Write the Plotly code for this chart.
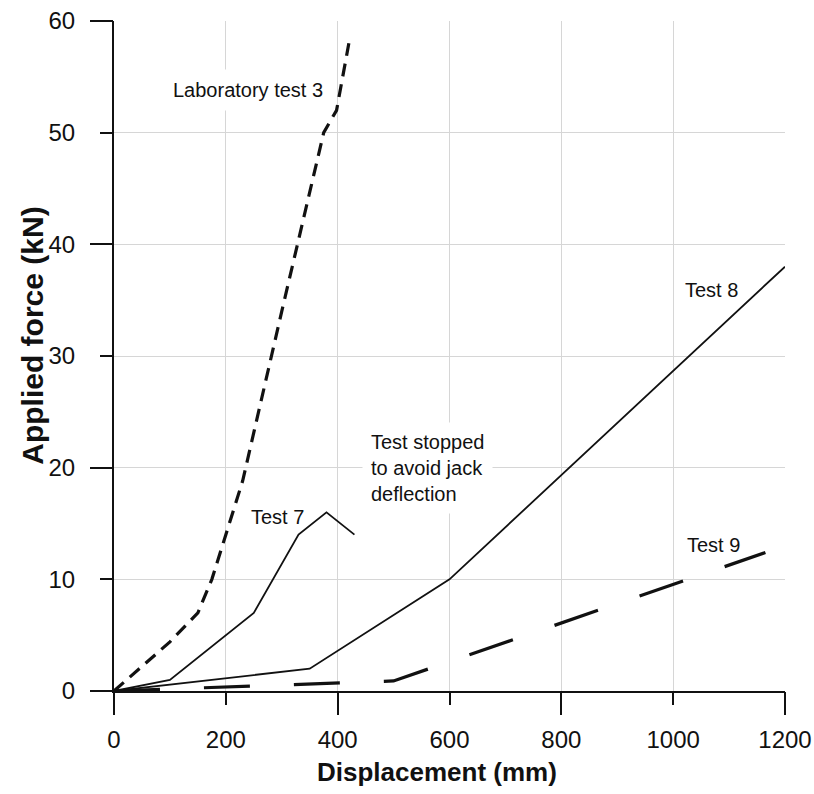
import plotly.graph_objects as go

# ---- data ----
lab3_x = [0, 100, 150, 175, 200, 230, 300, 375, 398, 420]
lab3_y = [0, 4.4, 7, 10, 14, 18.8, 34, 50, 52, 58]

test7_x = [0, 100, 250, 330, 380, 430]
test7_y = [0, 1, 7, 14, 16, 14]

test8_x = [0, 350, 600, 1200]
test8_y = [0, 2, 10, 38]

test9_x = [0, 500, 1165]
test9_y = [0, 0.9, 12.4]

x_ticks = [0, 200, 400, 600, 800, 1000, 1200]
x_major = [0, 400, 800, 1200]
y_ticks = [0, 10, 20, 30, 40, 50, 60]
y_major = [0, 20, 40, 60]

FONT = "Liberation Sans, Arial, Helvetica, sans-serif"
INK = "#111111"
GRID = "#d6d6d6"

fig = go.Figure()
fig.add_trace(go.Scatter(x=lab3_x, y=lab3_y, mode="lines",
                         line=dict(color=INK, width=3.2, dash="13px,8px"),
                         name="Laboratory test 3", showlegend=False))
fig.add_trace(go.Scatter(x=test7_x, y=test7_y, mode="lines",
                         line=dict(color=INK, width=1.8), name="Test 7", showlegend=False))
fig.add_trace(go.Scatter(x=test8_x, y=test8_y, mode="lines",
                         line=dict(color=INK, width=1.8), name="Test 8", showlegend=False))
fig.add_trace(go.Scatter(x=test9_x, y=test9_y, mode="lines",
                         line=dict(color=INK, width=3.2, dash="46px,44px"),
                         name="Test 9", showlegend=False))
# invisible trace to hold the overlay axes (long major ticks)
fig.add_trace(go.Scatter(x=[None], y=[None], xaxis="x2", yaxis="y2",
                         showlegend=False, hoverinfo="skip"))

ann_font = dict(family=FONT, size=20, color=INK)
title_font_x = dict(family=FONT, size=26, color=INK, weight="bold")
title_font_y = dict(family=FONT, size=30, color=INK, weight="bold")
annotations = [
    dict(x=240, y=53.8, text="Laboratory test 3", showarrow=False, font=ann_font,
         bgcolor="white", borderpad=9, xanchor="center", yanchor="middle"),
    dict(x=293, y=15.6, text="Test 7", showarrow=False, font=ann_font,
         xanchor="center", yanchor="middle"),
    dict(x=1069, y=35.9, text="Test 8", showarrow=False, font=ann_font,
         xanchor="center", yanchor="middle"),
    dict(x=1073, y=13.1, text="Test 9", showarrow=False, font=ann_font,
         xanchor="center", yanchor="middle"),
    dict(x=443, y=20.0, text="Test stopped<br>to avoid jack<br>deflection", showarrow=False,
         font=ann_font, align="left", bgcolor="white", borderpad=8,
         xanchor="left", yanchor="middle"),
    # axis titles (placed as in the reference, slightly off-centre)
    dict(xref="paper", yref="paper", x=0.482, y=-0.121, text="Displacement (mm)",
         showarrow=False, font=title_font_x, xanchor="center", yanchor="middle"),
    dict(xref="paper", yref="paper", x=-0.121, y=0.53, text="Applied force (kN)",
         showarrow=False, font=title_font_y, textangle=-90,
         xanchor="center", yanchor="middle"),
]

fig.update_layout(
    width=814, height=794,
    margin=dict(l=114, r=29, t=21, b=103),
    paper_bgcolor="white", plot_bgcolor="white",
    font=dict(family=FONT, color=INK),
    annotations=annotations,
    xaxis=dict(range=[0, 1200], tickvals=x_ticks, ticktext=[str(v) for v in x_ticks],
               automargin=False, ticklabeloverflow="allow",
               ticks="outside", ticklen=12, tickwidth=2, tickcolor=INK,
               showline=True, linewidth=2, linecolor=INK,
               showgrid=True, gridcolor=GRID, gridwidth=1, zeroline=False,
               tickfont=dict(size=24, family=FONT, color=INK), ticklabelstandoff=14),
    yaxis=dict(range=[0, 60], tickvals=y_ticks, ticktext=[str(v) for v in y_ticks],
               automargin=False, ticklabeloverflow="allow",
               ticks="outside", ticklen=12, tickwidth=2, tickcolor=INK,
               showline=True, linewidth=2, linecolor=INK,
               showgrid=True, gridcolor=GRID, gridwidth=1, zeroline=False,
               tickfont=dict(size=24, family=FONT, color=INK), ticklabelstandoff=20),
    xaxis2=dict(range=[0, 1200], overlaying="x", anchor="y2", side="bottom",
                automargin=False,
                tickvals=x_major, ticks="outside", ticklen=23, tickwidth=2, tickcolor=INK,
                showticklabels=False, showgrid=False, showline=False, zeroline=False),
    yaxis2=dict(range=[0, 60], overlaying="y", anchor="x2", side="left",
                automargin=False,
                tickvals=y_major, ticks="outside", ticklen=23, tickwidth=2, tickcolor=INK,
                showticklabels=False, showgrid=False, showline=False, zeroline=False),
)

# remove the browser's default 8px body margin so the figure fills the window exactly
fig.write_html("out.html", config={"displayModeBar": False},
               post_script="document.body.style.margin='0';document.body.style.overflow='hidden';")
